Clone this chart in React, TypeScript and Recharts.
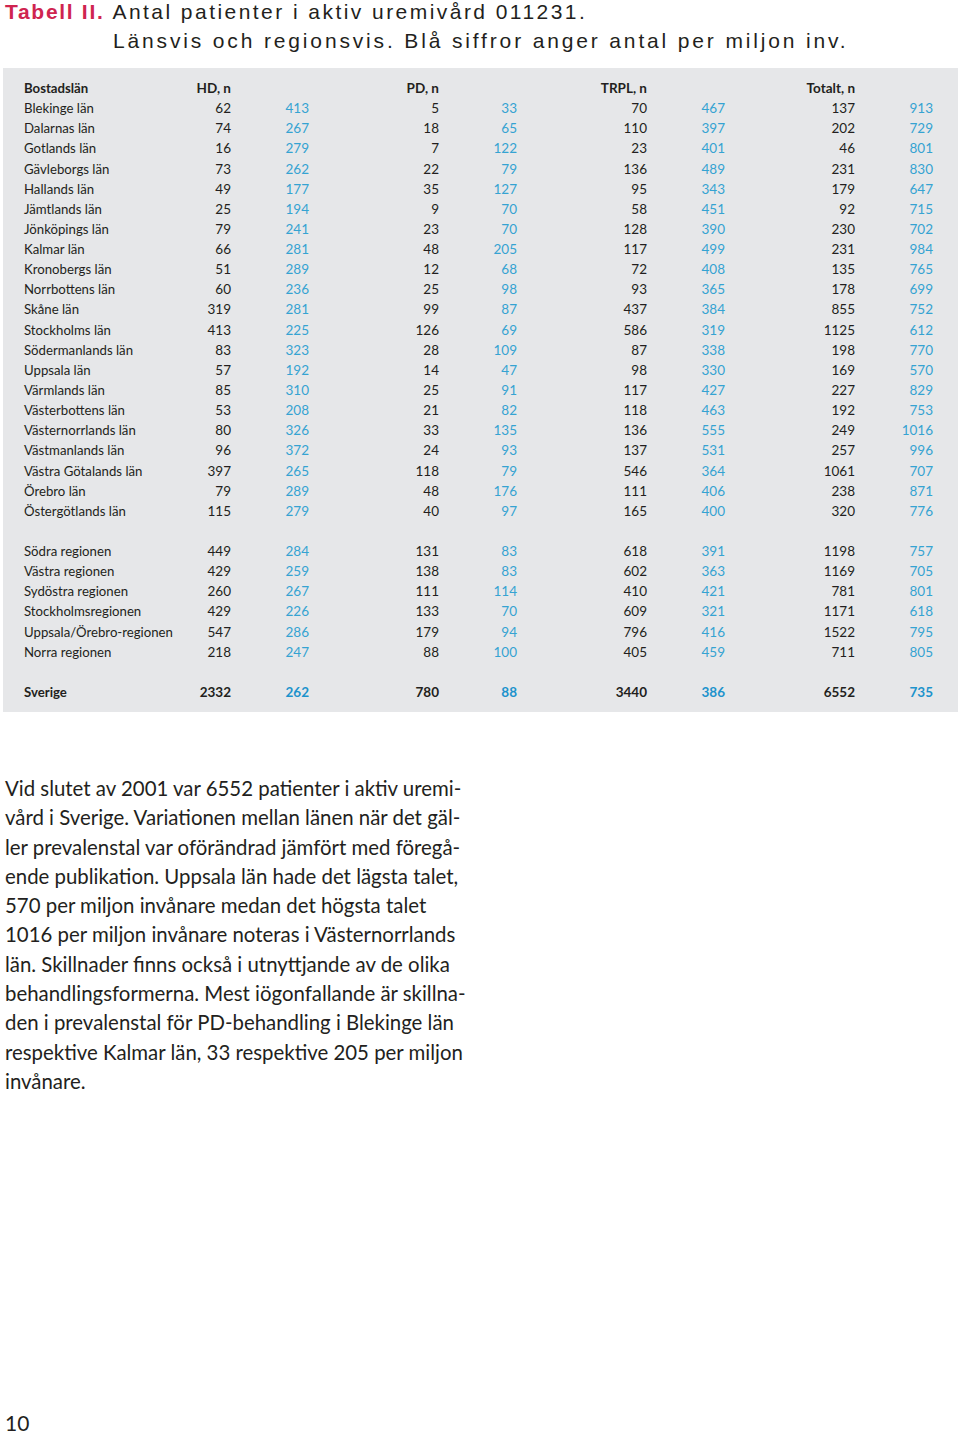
import React from 'react';
import { ScatterChart, Scatter, XAxis, YAxis } from 'recharts';

const groupHeaders = ['HD, n', 'PD, n', 'TRPL, n', 'Totalt, n'];
const firstColumnHeader = 'Bostadslän';

const rowNames = [
  'Blekinge län', 'Dalarnas län', 'Gotlands län', 'Gävleborgs län', 'Hallands län',
  'Jämtlands län', 'Jönköpings län', 'Kalmar län', 'Kronobergs län', 'Norrbottens län',
  'Skåne län', 'Stockholms län', 'Södermanlands län', 'Uppsala län', 'Värmlands län',
  'Västerbottens län', 'Västernorrlands län', 'Västmanlands län', 'Västra Götalands län',
  'Örebro län', 'Östergötlands län',
  'Södra regionen', 'Västra regionen', 'Sydöstra regionen', 'Stockholmsregionen',
  'Uppsala/Örebro-regionen', 'Norra regionen',
  'Sverige',
];

const hdN = [62, 74, 16, 73, 49, 25, 79, 66, 51, 60, 319, 413, 83, 57, 85, 53, 80, 96, 397, 79, 115, 449, 429, 260, 429, 547, 218, 2332];
const hdPmp = [413, 267, 279, 262, 177, 194, 241, 281, 289, 236, 281, 225, 323, 192, 310, 208, 326, 372, 265, 289, 279, 284, 259, 267, 226, 286, 247, 262];
const pdN = [5, 18, 7, 22, 35, 9, 23, 48, 12, 25, 99, 126, 28, 14, 25, 21, 33, 24, 118, 48, 40, 131, 138, 111, 133, 179, 88, 780];
const pdPmp = [33, 65, 122, 79, 127, 70, 70, 205, 68, 98, 87, 69, 109, 47, 91, 82, 135, 93, 79, 176, 97, 83, 83, 114, 70, 94, 100, 88];
const trplN = [70, 110, 23, 136, 95, 58, 128, 117, 72, 93, 437, 586, 87, 98, 117, 118, 136, 137, 546, 111, 165, 618, 602, 410, 609, 796, 405, 3440];
const trplPmp = [467, 397, 401, 489, 343, 451, 390, 499, 408, 365, 384, 319, 338, 330, 427, 463, 555, 531, 364, 406, 400, 391, 363, 421, 321, 416, 459, 386];
const totN = [137, 202, 46, 231, 179, 92, 230, 231, 135, 178, 855, 1125, 198, 169, 227, 192, 249, 257, 1061, 238, 320, 1198, 1169, 781, 1171, 1522, 711, 6552];
const totPmp = [913, 729, 801, 830, 647, 715, 702, 984, 765, 699, 752, 612, 770, 570, 829, 753, 1016, 996, 707, 871, 776, 757, 705, 801, 618, 795, 805, 735];

const countyCount = 21;
const regionCount = 6;

const nColumns = [hdN, pdN, trplN, totN];
const pmpColumns = [hdPmp, pdPmp, trplPmp, totPmp];

const paragraphLines = [
  'Vid slutet av 2001 var 6552 patienter i aktiv uremi-',
  'vård i Sverige. Variationen mellan länen när det gäl-',
  'ler prevalenstal var oförändrad jämfört med föregå-',
  'ende publikation. Uppsala län hade det lägsta talet,',
  '570 per miljon invånare medan det högsta talet',
  '1016 per miljon invånare noteras i Västernorrlands',
  'län. Skillnader finns också i utnyttjande av de olika',
  'behandlingsformerna. Mest iögonfallande är skillna-',
  'den i prevalenstal för PD-behandling i Blekinge län',
  'respektive Kalmar län, 33 respektive 205 per miljon',
  'invånare.',
];

const rowIndexOf = (i: number) => (i < countyCount ? i + 1 : i < countyCount + regionCount ? i + 2 : i + 3);
const totalRows = rowIndexOf(rowNames.length - 1);
const rowTicks = Array.from({ length: totalRows + 1 }, (_, i) => i);
const labelByRow: Record<number, string> = { 0: firstColumnHeader };
rowNames.forEach((n, i) => { labelByRow[rowIndexOf(i)] = n; });
const boldRows = new Set([0, totalRows]);

type Cell = { g: number; r: number; label: string; bold: boolean };
const nData: Cell[] = [];
const pmpData: Cell[] = [];
groupHeaders.forEach((h, g) => {
  nData.push({ g, r: 0, label: h, bold: true });
  nColumns[g].forEach((v, i) => {
    const r = rowIndexOf(i);
    nData.push({ g, r, label: String(v), bold: boldRows.has(r) });
  });
  pmpColumns[g].forEach((v, i) => {
    const r = rowIndexOf(i);
    pmpData.push({ g, r, label: String(v), bold: boldRows.has(r) });
  });
});

const FONT = 'Lato, "Open Sans", sans-serif';
const TABLE_FS = 13.5;
const DARK = '#231f20';
const BLUE = '#35a3d2';
const BLUE_BOLD = '#1d93cc';

const makeShape = (isPmp: boolean) => (props: any) => {
  const { cx, cy, payload } = props;
  if (cx == null || cy == null) return <g />;
  return (
    <text
      x={cx + (isPmp ? 39 : -39)}
      y={cy}
      dy={5}
      textAnchor="end"
      fontFamily={FONT}
      fontSize={TABLE_FS}
      fontWeight={payload.bold ? 700 : 400}
      fill={isPmp ? (payload.bold ? BLUE_BOLD : BLUE) : DARK}
    >
      {payload.label}
    </text>
  );
};

const NameTick = (props: any) => {
  const { x, y, payload } = props;
  const label = labelByRow[payload.value];
  if (!label) return <g />;
  return (
    <text
      x={x - 246}
      y={y}
      dy={5}
      textAnchor="start"
      fontFamily={FONT}
      fontSize={13.2}
      fontWeight={boldRows.has(payload.value) ? 700 : 400}
      fill={DARK}
    >
      {label}
    </text>
  );
};

export default function App() {
  return (
    <div style={{ position: 'absolute', left: 0, top: 0, width: 960, height: 1435, background: '#fff', overflow: 'hidden' }}>
      <div style={{ position: 'absolute', left: 5, top: -3, fontFamily: '"Liberation Sans", Arial, sans-serif', fontSize: 21, color: '#231f20', lineHeight: '29px', whiteSpace: 'pre' }}>
        <div>
          <span style={{ color: '#cf2450', fontWeight: 700, letterSpacing: 1.7 }}>Tabell II.</span>
          <span style={{ marginLeft: 8, letterSpacing: 2.45 }}>Antal patienter i aktiv uremivård 011231.</span>
        </div>
        <div style={{ marginLeft: 108, letterSpacing: 2.85 }}>Länsvis och regionsvis. Blå siffror anger antal per miljon inv.</div>
      </div>

      <div style={{ position: 'absolute', left: 3, top: 68, width: 955, height: 644, background: '#e6e7e9' }} />

      <div style={{ position: 'absolute', left: 0, top: 0 }}>
        <ScatterChart width={960} height={720} margin={{ top: 88, right: 66, bottom: 28, left: 24 }}>
          <XAxis type="number" dataKey="g" domain={[0, 3]} hide />
          <YAxis
            type="number"
            dataKey="r"
            domain={[0, totalRows]}
            reversed
            ticks={rowTicks}
            interval={0}
            width={246}
            axisLine={false}
            tickLine={false}
            tickSize={0}
            tickMargin={0}
            tick={<NameTick />}
          />
          <Scatter data={nData} shape={makeShape(false)} isAnimationActive={false} />
          <Scatter data={pmpData} shape={makeShape(true)} isAnimationActive={false} />
        </ScatterChart>
      </div>

      <div style={{ position: 'absolute', left: 5, top: 774, fontFamily: FONT, fontSize: 20.4, lineHeight: '29.3px', color: '#231f20', whiteSpace: 'pre' }}>
        {paragraphLines.map((l, i) => <div key={i}>{l}</div>)}
      </div>

      <div style={{ position: 'absolute', left: 5, top: 1410, fontFamily: FONT, fontSize: 21, color: '#231f20' }}>10</div>
    </div>
  );
}
